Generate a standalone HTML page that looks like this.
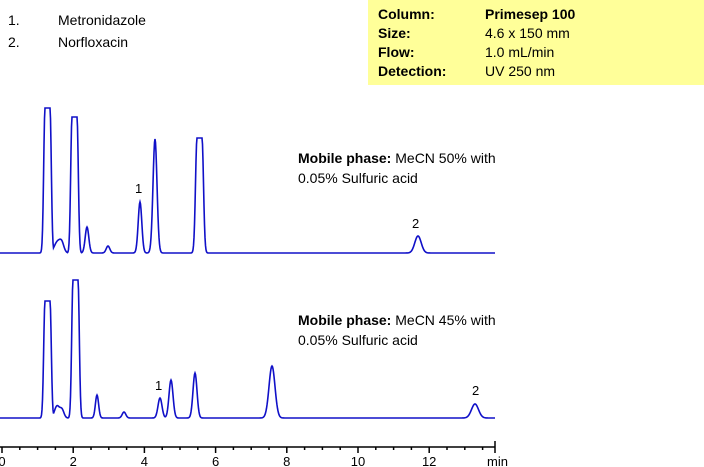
<!DOCTYPE html>
<html><head><style>
body{margin:0;background:#fff;width:704px;height:467px;overflow:hidden;font-family:"Liberation Sans",Arial,sans-serif;}
svg{position:absolute;left:0;top:0}
</style></head><body>
<svg width="704" height="467" xmlns="http://www.w3.org/2000/svg" font-family="Liberation Sans, Arial, sans-serif">
<rect x="368" y="0" width="336" height="85" fill="#ffff99"/>
<g font-size="14" fill="#000">
<text x="378" y="19" font-weight="bold">Column:</text><text x="485" y="19" font-weight="bold">Primesep 100</text>
<text x="378" y="38" font-weight="bold">Size:</text><text x="485" y="38">4.6 x 150 mm</text>
<text x="378" y="57" font-weight="bold">Flow:</text><text x="485" y="57">1.0 mL/min</text>
<text x="378" y="76" font-weight="bold">Detection:</text><text x="485" y="76">UV 250 nm</text>
</g>
<g font-size="14" fill="#000">
<text x="8" y="25">1.</text><text x="58" y="25">Metronidazole</text>
<text x="8" y="47">2.</text><text x="58" y="47">Norfloxacin</text>
<text x="298" y="163"><tspan font-weight="bold">Mobile phase:</tspan> MeCN 50% with</text>
<text x="298" y="183">0.05% Sulfuric acid</text>
<text x="298" y="325"><tspan font-weight="bold">Mobile phase:</tspan> MeCN 45% with</text>
<text x="298" y="345">0.05% Sulfuric acid</text>
<text x="135" y="193" font-size="13">1</text>
<text x="412" y="228" font-size="13">2</text>
<text x="155" y="390" font-size="13">1</text>
<text x="472" y="395" font-size="13">2</text>
</g>
<path id="t1" fill="none" stroke="#1010c8" stroke-width="1.6"/>
<path id="t2" fill="none" stroke="#1010c8" stroke-width="1.6"/>
<g id="ax" stroke="#000" stroke-width="1.5"></g>
<g id="lbl" font-size="13" fill="#000"></g>
</svg>
<script>
function flat(x,a,b,H,s){if(x<a)return H*Math.exp(-Math.pow(x-a,2)/(2*s*s));if(x>b)return H*Math.exp(-Math.pow(x-b,2)/(2*s*s));return H;}
function trace(id,base,peaks,flats){
 var d="";
 for(var x=0;x<=495;x+=0.5){
  var y=0;
  peaks.forEach(function(p){y+=p[1]*Math.exp(-Math.pow(x-p[0],2)/(2*p[2]*p[2]));});
  flats.forEach(function(f){y=Math.max(y,flat(x,f[0],f[1],f[2],f[3]));});
  d+=(x?"L":"M")+x+" "+(base-y).toFixed(2);
 }
 document.getElementById(id).setAttribute("d",d);
}
trace("t1",253,[[58,12,3.5],[62,6,2],[87,26,1.8],[108,7,1.8],[140,51,1.8],[155,114,2.0],[418,17,3.2]],
 [[45,50,145,1.3],[72,77,136,1.3],[197,202,115,1.5]]);
trace("t2",418,[[57,12,2.5],[62,8,2],[97,23,1.6],[124,6,1.8],[160,20,2],[171,38,2],[195,45,2],[272,52,3],[475,14,3.5]],
 [[45,50,117,1.3],[73,78,138,1.3]]);
var ax=document.getElementById("ax"),lb=document.getElementById("lbl"),ns="http://www.w3.org/2000/svg";
function L(x1,y1,x2,y2){var l=document.createElementNS(ns,"line");l.setAttribute("x1",x1);l.setAttribute("y1",y1);l.setAttribute("x2",x2);l.setAttribute("y2",y2);ax.appendChild(l);}
L(0,447,495,447);
for(var t=0;t<=13.85;t+=0.5){var x=2+35.6*t;L(x,447,x,t%2==0?453:450);
 if(t%2==0){var tx=document.createElementNS(ns,"text");tx.setAttribute("x",x);tx.setAttribute("y",466);tx.setAttribute("text-anchor","middle");tx.textContent=t;lb.appendChild(tx);}}
L(495,441,495,453);
var m=document.createElementNS(ns,"text");m.setAttribute("x",487);m.setAttribute("y",466);m.textContent="min";lb.appendChild(m);
</script>
</body></html>
